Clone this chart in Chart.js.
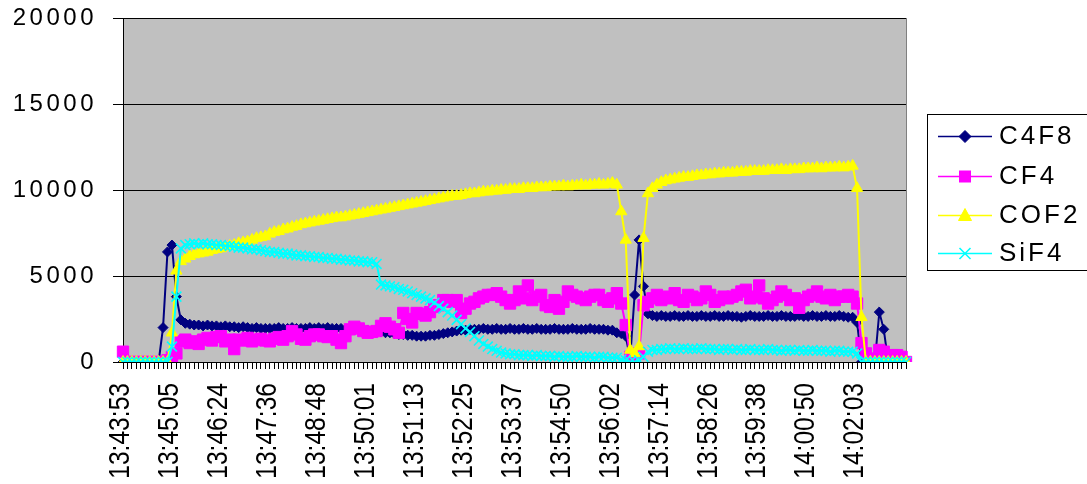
<!DOCTYPE html>
<html>
<head>
<meta charset="utf-8">
<title>Gas concentrations</title>
<script src="https://cdn.jsdelivr.net/npm/chart.js@4.4.1/dist/chart.umd.min.js"></script>
<style>
  html, body { margin: 0; padding: 0; background: #ffffff; }
  canvas { display: block; }
</style>
</head>
<body>
<canvas id="chart" width="1087" height="484"></canvas>
<script>
// Time stamps printed under every 11th sample
const tickTimes = [
  '13:43:53', '13:45:05', '13:46:24', '13:47:36', '13:48:48', '13:50:01',
  '13:51:13', '13:52:25', '13:53:37', '13:54:50', '13:56:02', '13:57:14',
  '13:58:26', '13:59:38', '14:00:50', '14:02:03'
];

const seriesNames = ['C4F8', 'CF4', 'COF2', 'SiF4'];

const c4f8 = [
  0, 0, 0, 0, 0, 0, 0, 0, 0, 2000, 6400,
  6800, 3800, 2450, 2250, 2200, 2150, 2150, 2100, 2150, 2100, 2100,
  2050, 2100, 2050, 2050, 2000, 2050, 2000, 1950, 2000, 1950, 1950,
  1950, 1950, 2000, 1950, 1950, 2000, 1950, 1950, 1950, 2000, 1950,
  2000, 1950, 2000, 1950, 1950, 1950, 1900, 1950, 1900, 1900, 1850,
  1850, 1800, 1800, 1750, 1700, 1700, 1650, 1600, 1600, 1550, 1550,
  1500, 1500, 1500, 1550, 1550, 1600, 1650, 1700, 1750, 1800, 1850,
  1850, 1900, 1900, 1900, 1950, 1900, 1900, 1950, 1900, 1900, 1950,
  1900, 1900, 1950, 1900, 1900, 1950, 1900, 1900, 1900, 1950, 1900,
  1900, 1900, 1950, 1900, 1900, 1900, 1950, 1900, 1900, 1900, 1850,
  1850, 1700, 1650, 1500, 200, 3900, 7100, 4400, 2800, 2700, 2650,
  2700, 2650, 2650, 2700, 2650, 2650, 2700, 2650, 2650, 2700, 2650,
  2650, 2700, 2650, 2650, 2700, 2650, 2650, 2600, 2650, 2700, 2650,
  2650, 2650, 2700, 2650, 2650, 2700, 2650, 2650, 2650, 2700, 2650,
  2650, 2700, 2650, 2650, 2700, 2650, 2650, 2700, 2650, 2600, 2600,
  2300, 0, 0, 0, 0, 2900, 1900, 0, 0, 0, 0,
  0
];

const cf4 = [
  600, 0, 0, 0, 0, 0, 0, 0, 0, 0, 100,
  300, 500, 1200, 1300, 1100, 1200, 1050, 1300, 1400, 1250, 1450,
  1500, 1200, 1300, 750, 1300, 1250, 1400, 1200, 1300, 1350, 1250,
  1200, 1350, 1450, 1300, 1500, 1800, 1600, 1350, 1300, 1500, 1600,
  1600, 1500, 1450, 1500, 1300, 1100, 1500, 1900, 2050, 1950, 1800,
  1700, 1750, 1800, 2100, 2250, 2050, 1900, 1700, 2850, 2500, 2300,
  2850, 2800, 2700, 2900, 3200, 3300, 3600, 3600, 3500, 3600, 2850,
  3100, 3400, 3500, 3700, 3800, 3900, 3900, 4000, 3800, 3600, 3400,
  3600, 4100, 3700, 4450, 3600, 3800, 3900, 3300, 3200, 3600, 3100,
  3500, 4100, 3900, 3800, 3700, 3600, 3800, 3900, 3900, 3600, 3500,
  3700, 4000, 3400, 2150, 300, 200, 500, 3300, 3500, 3700, 3900,
  3600, 3800, 3700, 4000, 3600, 3500, 3900, 3800, 3600, 3700, 4100,
  3900, 3500, 3600, 3800, 3700, 3800, 3900, 4100, 4200, 3700, 3800,
  4450, 3700, 3400, 3600, 3800, 4100, 3900, 3600, 3700, 3150, 3600,
  3800, 3900, 4100, 3800, 3700, 3900, 3600, 3800, 3800, 3900, 3800,
  3400, 1100, 500, 0, 200, 700, 600, 300, 400, 400, 300,
  0
];

const cof2 = [
  0, 0, 0, 0, 0, 0, 0, 0, 0, 0, 0,
  1700, 5300, 5850, 6000, 6150, 6250, 6300, 6350, 6400, 6500, 6550,
  6600, 6700, 6750, 6800, 6900, 6950, 7000, 7100, 7200, 7250, 7300,
  7450, 7550, 7600, 7700, 7750, 7850, 7900, 8000, 8050, 8100, 8150,
  8200, 8250, 8300, 8350, 8400, 8400, 8450, 8500, 8550, 8600, 8650,
  8700, 8750, 8800, 8850, 8900, 8950, 9000, 9050, 9100, 9150, 9200,
  9250, 9300, 9350, 9400, 9450, 9500, 9550, 9600, 9650, 9650, 9700,
  9750, 9800, 9800, 9850, 9900, 9900, 9950, 9950, 10000, 10000, 10050,
  10050, 10050, 10100, 10100, 10100, 10150, 10150, 10150, 10200, 10200, 10200,
  10250, 10200, 10250, 10250, 10300, 10250, 10300, 10300, 10350, 10300, 10350,
  10400, 10300, 8750, 7100, 700, 500, 900, 7200, 9800, 10100, 10300,
  10450, 10550, 10600, 10650, 10700, 10750, 10750, 10800, 10850, 10850, 10900,
  10900, 10950, 10950, 11000, 11000, 11000, 11050, 11050, 11050, 11100, 11100,
  11100, 11100, 11150, 11150, 11150, 11200, 11150, 11200, 11200, 11200, 11250,
  11250, 11250, 11300, 11250, 11300, 11300, 11300, 11350, 11300, 11350, 11400,
  10100, 2600, 0, 0, 0, 0, 0, 0, 0, 0, 0,
  0
];

const sif4 = [
  0, 0, 0, 0, 0, 0, 0, 0, 0, 0, 0,
  900, 3800, 6600, 6800, 6850, 6900, 6850, 6900, 6850, 6850, 6800,
  6800, 6750, 6750, 6700, 6650, 6650, 6600, 6550, 6550, 6500, 6450,
  6400, 6400, 6350, 6300, 6300, 6250, 6200, 6200, 6150, 6150, 6100,
  6100, 6050, 6050, 6000, 6000, 5950, 5950, 5900, 5900, 5850, 5850,
  5800, 5800, 5700, 4500, 4450, 4400, 4350, 4250, 4200, 4100, 4000,
  3900, 3800, 3700, 3600, 3450, 3250, 3100, 2900, 2700, 2450, 2200,
  1950, 1750, 1500, 1250, 1050, 900, 750, 650, 550, 500, 450,
  450, 400, 400, 400, 350, 400, 350, 350, 350, 300, 350,
  300, 300, 300, 350, 300, 300, 300, 250, 300, 300, 250,
  250, 250, 150, 100, 0, 0, 100, 300, 600, 700, 700,
  750, 750, 800, 750, 750, 800, 750, 750, 750, 800, 750,
  750, 750, 700, 750, 750, 700, 750, 700, 700, 750, 700,
  700, 700, 750, 700, 700, 650, 700, 700, 650, 700, 650,
  650, 700, 650, 650, 650, 600, 650, 650, 600, 600, 600,
  500, 0, 0, 0, 0, 0, 0, 0, 0, 0, 0,
  0
];

const yTicks = [0, 5000, 10000, 15000, 20000];

// One category per sample; only every 11th one carries a printed time
const labelEvery = 11;
const categories = c4f8.map((_, i) => (i % labelEvery === 0 ? (tickTimes[i / labelEvery] || '') : ''));

const seriesStyle = [
  { color: '#000080', point: 'rectRot', radius: 5 },
  { color: '#FF00FF', point: 'rect', radius: 8 },
  { color: '#FFFF00', point: 'triangle', radius: 6.5 },
  { color: '#00FFFF', point: 'crossRot', radius: 7 }
];
const seriesData = [c4f8, cf4, cof2, sif4];

const datasets = seriesNames.map((name, k) => ({
  label: name,
  data: seriesData[k],
  borderColor: seriesStyle[k].color,
  backgroundColor: seriesStyle[k].color,
  borderWidth: 2,
  pointStyle: seriesStyle[k].point,
  pointRadius: seriesStyle[k].radius,
  pointBackgroundColor: seriesStyle[k].color,
  pointBorderColor: seriesStyle[k].color,
  pointBorderWidth: seriesStyle[k].point === 'crossRot' ? 1.6 : 1,
  tension: 0,
  order: seriesNames.length - 1 - k
}));

const FONT = 'Liberation Sans, Arial, Helvetica, sans-serif';
const X_SQUEEZE = 0.82;   // condensed look for the rotated time labels

// Grey plot area under the grid, plus label tweaks on the two axes
const plotArea = {
  id: 'plotArea',
  beforeDraw(chart) {
    const { ctx, chartArea: a } = chart;
    ctx.save();
    ctx.fillStyle = '#C0C0C0';
    ctx.fillRect(a.left, a.top, a.right - a.left, a.bottom - a.top);
    ctx.restore();

    const y = chart.scales.y;
    if (y && !y.__spaced) {
      const base = y.drawLabels;
      y.drawLabels = function (area) {
        this.ctx.save();
        this.ctx.letterSpacing = '3.5px';
        base.call(this, area);
        this.ctx.restore();
      };
      y.__spaced = true;
    }

    const x = chart.scales.x;
    if (x && !x.__squeezed) {
      const base = x.drawLabels;
      x.drawLabels = function (area) {
        const c = this.ctx;
        const fill = c.fillText;
        c.fillText = function (t, px, py, mw) {
          this.save();
          this.scale(X_SQUEEZE, 1);
          if (mw === undefined) fill.call(this, t, px / X_SQUEEZE, py);
          else fill.call(this, t, px / X_SQUEEZE, py, mw / X_SQUEEZE);
          this.restore();
        };
        try { base.call(this, area); } finally { delete c.fillText; }
      };
      x.__squeezed = true;
    }
  },
  beforeDatasetsDraw(chart) {
    const { ctx, chartArea: a } = chart;
    ctx.save();
    ctx.strokeStyle = '#808080';
    ctx.lineWidth = 1;
    ctx.beginPath();
    ctx.moveTo(Math.round(a.right) + 0.5, a.top);
    ctx.lineTo(Math.round(a.right) + 0.5, a.bottom);
    ctx.stroke();
    ctx.restore();
  }
};

function drawMarker(ctx, style, x, y, color) {
  ctx.save();
  ctx.fillStyle = color;
  ctx.strokeStyle = color;
  ctx.lineWidth = 1;
  ctx.beginPath();
  if (style === 'rectRot') {
    ctx.moveTo(x - 6, y); ctx.lineTo(x, y - 6); ctx.lineTo(x + 6, y); ctx.lineTo(x, y + 6);
    ctx.closePath(); ctx.fill(); ctx.stroke();
  } else if (style === 'rect') {
    ctx.rect(x - 6, y - 6, 12, 12); ctx.fill();
  } else if (style === 'triangle') {
    ctx.moveTo(x, y - 7); ctx.lineTo(x + 6.5, y + 5); ctx.lineTo(x - 6.5, y + 5);
    ctx.closePath(); ctx.fill(); ctx.stroke();
  } else if (style === 'crossRot') {
    ctx.lineWidth = 1.6;
    ctx.moveTo(x - 5.5, y - 5.5); ctx.lineTo(x + 5.5, y + 5.5);
    ctx.moveTo(x + 5.5, y - 5.5); ctx.lineTo(x - 5.5, y + 5.5);
    ctx.stroke();
  }
  ctx.restore();
}

// Boxed legend at the right of the plot
const sideLegend = {
  id: 'sideLegend',
  afterDraw(chart) {
    const ctx = chart.ctx;
    const box = { left: 927, top: 114, width: 200, height: 156 };
    ctx.save();
    ctx.fillStyle = '#ffffff';
    ctx.fillRect(box.left, box.top, box.width, box.height);
    ctx.strokeStyle = '#000000';
    ctx.lineWidth = 1;
    ctx.strokeRect(box.left + 0.5, box.top + 0.5, box.width, box.height);
    const rows = [136, 176, 215, 253];
    seriesNames.forEach((name, k) => {
      const y = rows[k];
      const st = seriesStyle[k];
      ctx.strokeStyle = st.color;
      ctx.lineWidth = 1.5;
      ctx.beginPath();
      ctx.moveTo(938, y + 0.5);
      ctx.lineTo(992, y + 0.5);
      ctx.stroke();
      drawMarker(ctx, st.point, 965, y + 0.5, st.color);
      ctx.fillStyle = '#000000';
      ctx.font = '26px ' + FONT;
      ctx.letterSpacing = '3px';
      ctx.textAlign = 'left';
      ctx.textBaseline = 'middle';
      ctx.fillText(name, 999, y + 1);
      ctx.letterSpacing = '0px';
    });
    ctx.restore();
  }
};

new Chart(document.getElementById('chart'), {
  type: 'line',
  data: { labels: categories, datasets },
  options: {
    responsive: false,
    animation: false,
    devicePixelRatio: 1,
    layout: { padding: { top: 18, right: 181, bottom: 0, left: 0 } },
    plugins: {
      legend: { display: false },
      tooltip: { enabled: false }
    },
    scales: {
      x: {
        type: 'category',
        offset: false,
        grid: { display: true, drawOnChartArea: false, drawTicks: true, tickLength: 7, color: '#000000', lineWidth: 1 },
        border: { display: true, color: '#000000', width: 1 },
        ticks: {
          autoSkip: false,
          maxRotation: 90,
          minRotation: 90,
          padding: 14,
          labelOffset: -2,
          color: '#000000',
          font: { family: FONT, size: 30 }
        },
        afterFit(scale) { scale.height = 122; }
      },
      y: {
        min: yTicks[0],
        max: yTicks[yTicks.length - 1],
        afterBuildTicks(scale) { scale.ticks = yTicks.map(v => ({ value: v })); },
        grid: { color: '#000000', lineWidth: 1, tickLength: 10, drawTicks: true },
        border: { display: true, color: '#000000', width: 1 },
        ticks: {
          padding: 16,
          color: '#000000',
          font: { family: FONT, size: 24 },
          callback: v => String(v)
        },
        afterFit(scale) {
          scale.width = 123;
          scale.paddingTop = 0;
          scale.paddingBottom = 0;
        }
      }
    }
  },
  plugins: [plotArea, sideLegend]
});
</script>
</body>
</html>
